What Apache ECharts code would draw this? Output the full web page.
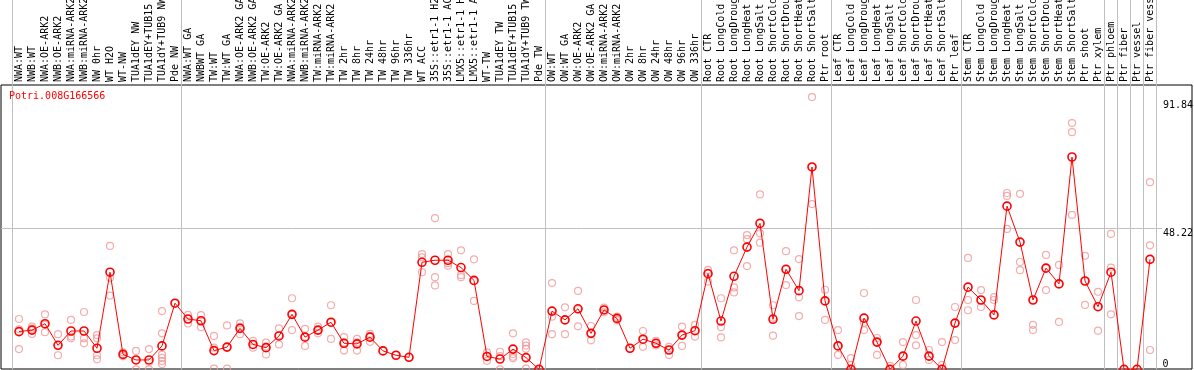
<!DOCTYPE html>
<html>
<head>
<meta charset="utf-8">
<script src="https://cdn.jsdelivr.net/npm/echarts@6/dist/echarts.min.js"></script>
<style>
html,body{margin:0;padding:0;background:#fff;}
#chart{width:1194px;height:370px;}
</style>
</head>
<body>
<div id="chart"></div>
<script>
const geneId = 'Potri.008G166566';

const categories = [
  'NWA:WT','NWB:WT','NWA:OE-ARK2','NWB:OE-ARK2','NWA:miRNA-ARK2','NWB:miRNA-ARK2','NW 0hr','WT H2O','WT-NW',
  'TUA1dEY NW','TUA1dEY+TUB15 NW','TUA1dY+TUB9 NW','Pde NW',
  'NWA:WT GA','NWBWT GA','TW:WT','TW:WT GA','NWA:OE-ARK2 GA','NWB:OE-ARK2 GA','TW:OE-ARK2','TW:OE-ARK2 GA',
  'NWA:miRNA-ARK2','NWB:miRNA-ARK2','TW:miRNA-ARK2','TW:miRNA-ARK2','TW 2hr','TW 8hr','TW 24hr','TW 48hr','TW 96hr','TW 336hr',
  'WT ACC','35S::etr1-1 H2O','35S::etr1-1 ACC','LMX5::etr1-1 H2O','LMX5::etr1-1 ACC','WT-TW',
  'TUA1dEY TW','TUA1dEY+TUB15 TW','TUA1dY+TUB9 TW','Pde TW',
  'OW:WT','OW:WT GA','OW:OE-ARK2','OW:OE-ARK2 GA','OW:miRNA-ARK2','OW:miRNA-ARK2','OW 2hr','OW 8hr','OW 24hr','OW 48hr','OW 96hr','OW 336hr',
  'Root CTR','Root LongCold','Root LongDrought','Root LongHeat','Root LongSalt','Root ShortCold','Root ShortDrought','Root ShortHeat','Root ShortSalt','Ptr root',
  'Leaf CTR','Leaf LongCold','Leaf LongDrought','Leaf LongHeat','Leaf LongSalt','Leaf ShortCold','Leaf ShortDrought','Leaf ShortHeat','Leaf ShortSalt','Ptr leaf',
  'Stem CTR','Stem LongCold','Stem LongDrought','Stem LongHeat','Stem LongSalt','Stem ShortCold','Stem ShortDrought','Stem ShortHeat','Stem ShortSalt','Ptr shoot',
  'Ptr xylem','Ptr phloem','Ptr fiber','Ptr vessel','Ptr fiber vessel'
];

const means = [
  12.9,13.4,15.6,8.2,13.1,13.1,7.2,33.2,5.1,3.2,3.2,8.0,22.6,
  17.2,16.6,6.4,7.6,14.0,8.5,7.4,11.4,18.8,11.0,13.4,16.1,8.9,8.7,11.0,6.3,4.8,
  4.1,36.6,37.3,37.3,34.8,30.4,4.4,3.5,6.9,4.0,0,
  19.9,16.9,20.7,12.3,20.3,17.4,7.2,10.3,8.9,6.6,11.7,13.2,
  32.7,16.5,31.8,41.8,49.9,17.1,34.2,26.9,69.2,23.4,
  8.0,0,17.5,9.3,0,4.5,16.5,4.5,0,15.8,
  28.1,23.7,18.6,55.8,43.5,23.7,34.6,29.2,72.6,30.2,
  21.4,33.2,0,0,37.6
];

const replicates = [
  [17.2,13.7,6.9],[14.6,13.9,12.1],[18.8,12.7,15.3],[12.0,4.8,8.2],[16.9,11.2,10.6],[19.6,10.6,8.9],
  [11.7,10.6,4.8,3.4],[42.2,31.3,25.2],[5.8,5.1,4.5],[6.3,0,3.2],[6.9,0,2.5],[19.9,12.3,5.0,3.9,2.8,1.8],[22.6],
  [18.6,15.7,17.2],[18.5,14.4,16.8],[11.4,7.4,0.2],[15.0,7.6,0.2],[15.7,14.5,12.0],[9.7,7.4,8.4],[9.1,5.1,7.8],
  [14.0,8.5,11.6],[24.3,13.4,18.7],[13.8,8.0,11.2],[14.6,12.3,13.4],[21.9,10.4,16.0],[11.0,6.4,9.2],[10.4,6.4,9.2],
  [12.1,9.4,11.4],[6.3],[4.8],
  [4.1],[39.4,38.3,33.2],[51.7,31.5,28.7],[39.4,36.3,35.4],[40.7,32.2,31.5],[37.6,23.4,30.2],[5.8,2.9,4.4],
  [6.0,4.5,0],[12.3,4.3,3.8,5.2],[9.2,8.1,7.0,0.2],[0],
  [29.5,18.0,12.0],[21.2,12.0,16.9],[26.8,14.7,20.6],[14.8,9.9,12.3],[21.1,19.5,20.3],[18.0,16.8,17.4],[7.2],
  [13.1,7.7,10.1],[9.7,8.2,8.9],[7.7,4.9,6.6],[14.6,8.0,11.7],[15.2,11.2,13.2],
  [34.0,30.0,33.0],[24.3,14.4,10.9],[40.7,28.0,26.3],[45.9,44.5,35.3],[59.8,46.5,43.3],[21.9,17.6,11.5],
  [40.4,28.8,34.2],[37.7,24.6,18.2],[93.1,56.5,69.2],[27.2,16.9,23.4],
  [13.4,4.9,8.0],[3.8,1.5,0],[26.1,15.9,13.4],[10.7,4.9,9.3],[1.2,0,0],[9.3,1.5,4.5],[23.7,11.7,8.2],
  [6.6,3.2,4.5],[9.3,1.5,0],[21.3,15.8,10.0],
  [38.1,23.7,20.2],[27.1,21.3,23.7],[24.7,23.7,18.6],[60.3,59.3,48.0],[60.0,36.7,33.9],[15.2,13.4,23.7],
  [39.1,27.1,34.6],[35.7,16.2,29.2],[84.2,81.1,52.8],[38.8,22.0,30.2],
  [26.5,13.2,21.4],[46.3,34.8,18.8],[0],[0],[64.0,42.4,6.6]
];

// group separator positions (category index where a new group starts)
const groupStarts = [0,13,41,53,63,73,84,85,86,87];
const midLabel = 48.22;
const maxLabel = 91.84;
const yMax = 126.3;

const FONT = 'DejaVu Sans Mono';

const repData = [];
replicates.forEach((arr, i) => arr.forEach(v => repData.push([i, v])));

const chart = echarts.init(document.getElementById('chart'), null, {renderer: 'canvas'});
chart.setOption({
  animation: false,
  backgroundColor: '#fff',
  title: {
    text: geneId, left: 9, top: 91, padding: 0,
    textStyle: {color: '#ff0000', fontFamily: FONT, fontSize: 10, fontWeight: 'normal'}
  },
  grid: [
    {left: 1, right: 2, top: 85, bottom: 1, show: true, borderColor: '#000', borderWidth: 1, backgroundColor: 'transparent', containLabel: false, outerBoundsMode: 'none'},
    {left: 1, width: 1161, top: 0, bottom: 0.7, show: false, containLabel: false, outerBoundsMode: 'none'},
    {left: 12.5, width: 1144, top: 0, bottom: 0.7, show: false, containLabel: false, outerBoundsMode: 'none'}
  ],
  xAxis: [
    {gridIndex: 0, type: 'value', show: false},
    {gridIndex: 1, type: 'value', show: false},
    {
      gridIndex: 2, type: 'category', data: categories, position: 'top', offset: -85,
      boundaryGap: true,
      axisLine: {show: false}, axisTick: {show: false},
      axisLabel: {rotate: 90, interval: 0, margin: 3, fontFamily: FONT, fontSize: 10, color: '#000'},
      splitLine: {show: true, interval: (idx) => groupStarts.includes(idx), lineStyle: {color: '#c0c0c0', width: 1}}
    }
  ],
  yAxis: [
    {gridIndex: 0, type: 'value', show: false},
    {
      gridIndex: 1, type: 'value', min: 0, max: yMax, position: 'right',
      axisLine: {show: false},
      axisTick: {show: false, customValues: [midLabel]},
      splitLine: {show: true, lineStyle: {color: '#c0c0c0', width: 1}},
      axisLabel: {customValues: [midLabel, maxLabel], verticalAlign: 'top', margin: 1,
        fontFamily: FONT, fontSize: 10, color: '#000', formatter: v => v.toFixed(2)}
    },
    {
      gridIndex: 2, type: 'value', min: 0, max: yMax, position: 'right',
      axisLine: {show: false},
      axisTick: {show: false, customValues: [0]},
      splitLine: {show: false},
      axisLabel: {customValues: [0], verticalAlign: 'bottom', margin: 6,
        fontFamily: FONT, fontSize: 10, color: '#000', formatter: v => String(v)}
    }
  ],
  series: [
    {
      type: 'scatter', xAxisIndex: 2, yAxisIndex: 2, data: repData,
      symbol: 'circle', symbolSize: 7, z: 2,
      itemStyle: {color: 'rgba(0,0,0,0)', borderColor: '#f09898', borderWidth: 1.2},
      emphasis: {disabled: true}
    },
    {
      type: 'line', xAxisIndex: 2, yAxisIndex: 2, data: means,
      symbol: 'circle', symbolSize: 8, showSymbol: true, showAllSymbol: true, z: 3,
      lineStyle: {color: '#ff0000', width: 1},
      itemStyle: {color: 'rgba(0,0,0,0)', borderColor: '#ff0000', borderWidth: 1.6},
      emphasis: {disabled: true}
    }
  ]
});
</script>
</body>
</html>
